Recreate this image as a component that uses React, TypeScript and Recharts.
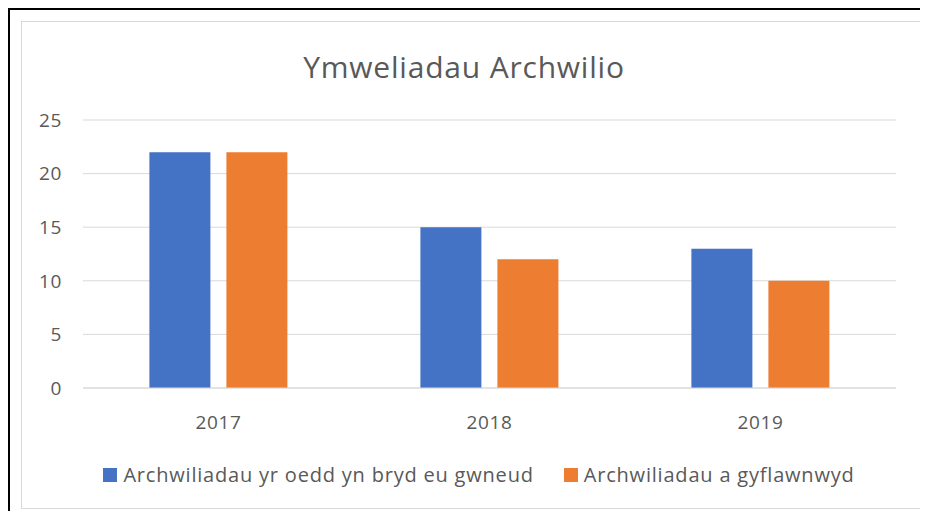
import { BarChart, Bar, XAxis, YAxis, CartesianGrid } from "recharts"

const years = ["2017", "2018", "2019"]
const dueVisits = [22, 15, 13]
const doneVisits = [22, 12, 10]
const yTicks = [0, 5, 10, 15, 20, 25]

const seriesNames = [
    "Archwiliadau yr oedd yn bryd eu gwneud",
    "Archwiliadau a gyflawnwyd"
]
const seriesColors = ["#4472c4", "#ed7d31"]

const chartData = years.map((year, i) => ({
    year,
    due: dueVisits[i],
    done: doneVisits[i]
}))

const font = "'Open Sans', sans-serif"
const textColor = "#595959"
const tickStyle = {
    fontSize: 19,
    fill: textColor,
    fontFamily: font,
    letterSpacing: 0.6
}

function ChartLegend() {
    return (
        <div
            style={{
                position: "absolute",
                left: 15,
                top: 461,
                width: 928,
                display: "flex",
                justifyContent: "center",
                fontFamily: font,
                fontSize: 20,
                color: textColor,
                letterSpacing: 0.8
            }}
        >
            {seriesNames.map((name, i) => (
                <div
                    key={name}
                    style={{
                        display: "flex",
                        alignItems: "center",
                        marginRight: i === 0 ? 30 : 0
                    }}
                >
                    <span
                        style={{
                            display: "inline-block",
                            width: 14,
                            height: 14,
                            background: seriesColors[i],
                            marginRight: 6
                        }}
                    />
                    {name}
                </div>
            ))}
        </div>
    )
}

export default function App() {
    return (
        <div
            style={{
                position: "relative",
                width: 928,
                height: 519,
                margin: -8,
                overflow: "hidden",
                background: "#fff"
            }}
        >
            {/* outer black frame, only top and left visible */}
            <div
                style={{
                    position: "absolute",
                    left: 7,
                    top: 7,
                    width: 921,
                    height: 3,
                    background: "#000"
                }}
            />
            <div
                style={{
                    position: "absolute",
                    left: 7,
                    top: 7,
                    width: 3,
                    height: 512,
                    background: "#000"
                }}
            />
            <div
                style={{
                    position: "absolute",
                    left: 21,
                    top: 21,
                    width: 900,
                    height: 486,
                    border: "1px solid #d9d9d9"
                }}
            />
            <div
                style={{
                    position: "absolute",
                    left: 0,
                    top: 46,
                    width: 928,
                    textAlign: "center",
                    fontFamily: font,
                    fontSize: 30,
                    letterSpacing: 0.8,
                    color: textColor
                }}
            >
                Ymweliadau Archwilio
            </div>
            <div style={{ position: "absolute", left: 0, top: 0 }}>
                <BarChart
                    width={928}
                    height={519}
                    data={chartData}
                    margin={{ top: 120, right: 32, bottom: 101, left: 0 }}
                    barCategoryGap="24.5%"
                    barGap={16}
                >
                    <CartesianGrid
                        vertical={false}
                        stroke="#d9d9d9"
                        strokeWidth={1}
                    />
                    <XAxis
                        dataKey="year"
                        height={30}
                        tickLine={false}
                        axisLine={{ stroke: "#d9d9d9" }}
                        tick={tickStyle}
                        tickMargin={22}
                    />
                    <YAxis
                        width={83}
                        domain={[0, 25]}
                        ticks={yTicks}
                        tickLine={false}
                        axisLine={false}
                        tick={tickStyle}
                        tickMargin={15}
                    />
                    <Bar
                        dataKey="due"
                        name={seriesNames[0]}
                        fill={seriesColors[0]}
                        isAnimationActive={false}
                    />
                    <Bar
                        dataKey="done"
                        name={seriesNames[1]}
                        fill={seriesColors[1]}
                        isAnimationActive={false}
                    />
                </BarChart>
            </div>
            <ChartLegend />
        </div>
    )
}
